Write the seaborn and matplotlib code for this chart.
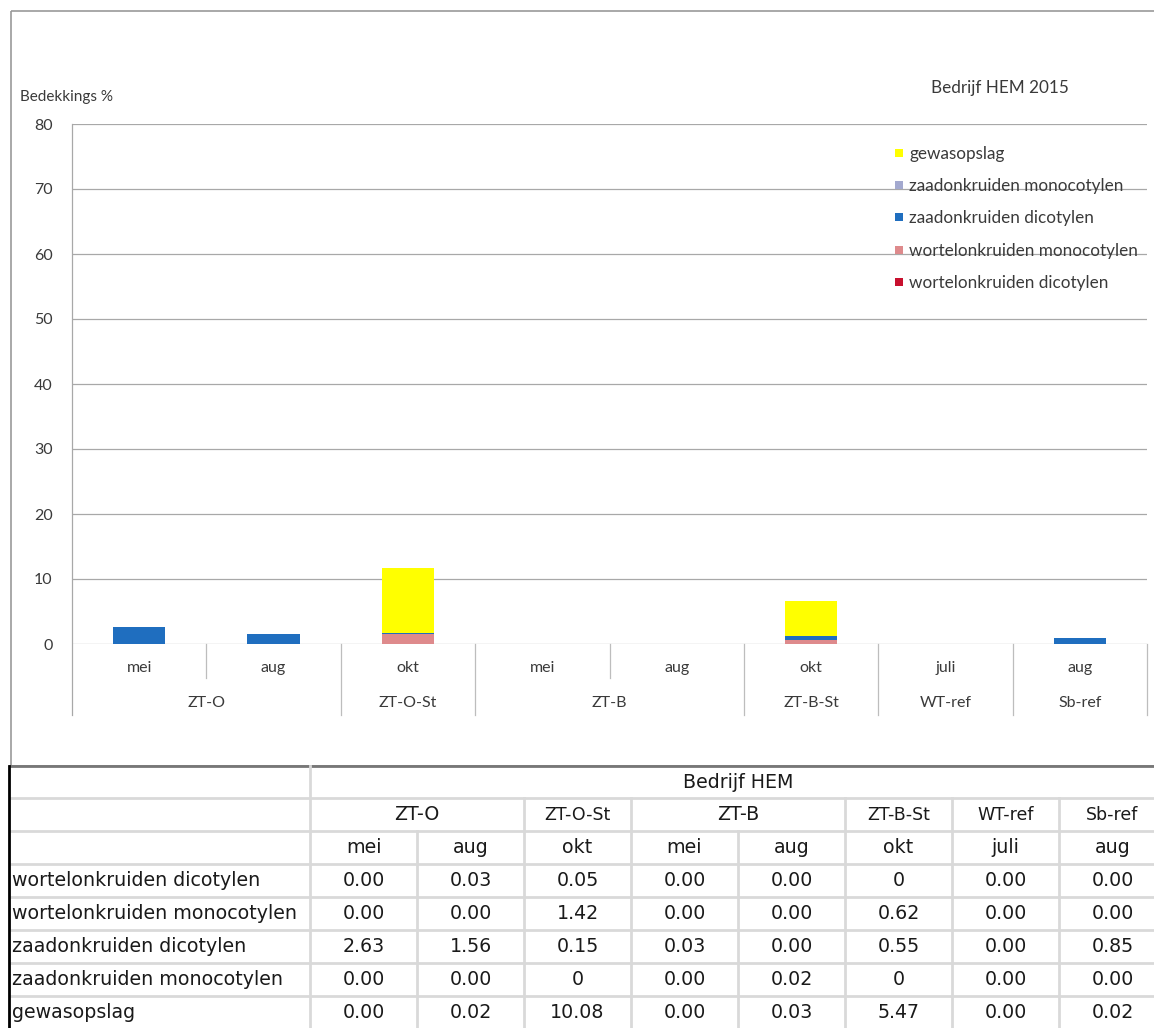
import matplotlib
matplotlib.use("Agg")
import matplotlib.pyplot as plt
import matplotlib.transforms as mtransforms
from matplotlib.lines import Line2D
from matplotlib.patches import Rectangle
import pandas as pd
import seaborn as sns

# ---- data -------------------------------------------------------------
groups = ["ZT-O", "ZT-O", "ZT-O-St", "ZT-B", "ZT-B", "ZT-B-St", "WT-ref", "Sb-ref"]
months = ["mei", "aug", "okt", "mei", "aug", "okt", "juli", "aug"]

wortel_dico = ["0.00", "0.03", "0.05", "0.00", "0.00", "0", "0.00", "0.00"]
wortel_mono = ["0.00", "0.00", "1.42", "0.00", "0.00", "0.62", "0.00", "0.00"]
zaad_dico = ["2.63", "1.56", "0.15", "0.03", "0.00", "0.55", "0.00", "0.85"]
zaad_mono = ["0.00", "0.00", "0", "0.00", "0.02", "0", "0.00", "0.00"]
gewas = ["0.00", "0.02", "10.08", "0.00", "0.03", "5.47", "0.00", "0.02"]

series_names = ["wortelonkruiden dicotylen", "wortelonkruiden monocotylen",
                "zaadonkruiden dicotylen", "zaadonkruiden monocotylen", "gewasopslag"]
series_values = [wortel_dico, wortel_mono, zaad_dico, zaad_mono, gewas]
series_colors = ["#C8102E", "#DE8A8C", "#1F6EBF", "#A3A9CF", "#FFFF00"]

y_ticks = [0, 10, 20, 30, 40, 50, 60, 70, 80]
y_title = "Bedekkings %"
chart_title = "Bedrijf HEM 2015"
table_title = "Bedrijf HEM"

# ---- figure -----------------------------------------------------------
W, H = 1154, 1028
fig = plt.figure(figsize=(W / 100, H / 100), dpi=100)
fig.patch.set_facecolor("white")

chart_font = ["Lato", "DejaVu Sans"]
text_col = "#3a3a3a"

# overlay in pixel coordinates for frame and table
ov = fig.add_axes([0, 0, 1, 1])
ov.set_xlim(0, W)
ov.set_ylim(H, 0)
ov.axis("off")
ov.set_zorder(0)

x0_px, x1_px, ytop_px, y0_px = 72, 1147, 124, 644
ax = fig.add_axes([x0_px / W, 1 - y0_px / H, (x1_px - x0_px) / W, (y0_px - ytop_px) / H])
ax.set_zorder(2)
ax.patch.set_alpha(0)

keys = [f"{g}|{m}|{i}" for i, (g, m) in enumerate(zip(groups, months))]
bottom = [0.0] * len(keys)
for name, vals, col in zip(series_names, series_values, series_colors):
    heights = [float(v) for v in vals]
    df = pd.DataFrame({"cat": keys, "val": heights})
    sns.barplot(data=df, x="cat", y="val", order=keys, color=col, saturation=1,
                width=0.39, linewidth=0, errorbar=None, bottom=bottom, ax=ax)
    bottom = [b + h for b, h in zip(bottom, heights)]

ax.set_xlim(-0.5, len(keys) - 0.5)
ax.set_ylim(0, 80)
ax.set_yticks(y_ticks)
ax.set_yticklabels([str(t) for t in y_ticks], fontsize=11.5, color=text_col, family=chart_font)
ax.tick_params(axis="y", length=0, pad=14)
ax.set_xticks([])
ax.set_xlabel("")
ax.set_ylabel("")
for s in ax.spines.values():
    s.set_visible(False)
ax.yaxis.grid(True, color="#a8a8a8", lw=0.9)
ax.set_axisbelow(True)

# category axis: separators, month and group labels
blend = mtransforms.blended_transform_factory(ax.transData, ax.transAxes)
h_ax = y0_px - ytop_px
short_y = -(678 - y0_px) / h_ax
long_y = -(715 - y0_px) / h_ax
group_edges = [0]
for i in range(1, len(groups)):
    if groups[i] != groups[i - 1]:
        group_edges.append(i)
group_edges.append(len(groups))
for k in range(len(groups) + 1):
    yb = long_y if k in group_edges else short_y
    top = 1.0 if k == 0 else 0.0
    ax.add_line(Line2D([k - 0.5, k - 0.5], [yb, top], transform=blend,
                       color="#bdbdbd" if k else "#a8a8a8", lw=0.9, clip_on=False))
for i, m in enumerate(months):
    ax.text(i, -(668 - y0_px) / h_ax, m, transform=blend, ha="center", va="center",
            fontsize=11.5, color=text_col, family=chart_font)
for a, b in zip(group_edges[:-1], group_edges[1:]):
    ax.text((a + b - 1) / 2, -(703 - y0_px) / h_ax, groups[a], transform=blend,
            ha="center", va="center", fontsize=11.5, color=text_col, family=chart_font)

# titles
ov.text(20, 97, y_title, ha="left", va="center", fontsize=11, color=text_col, family=chart_font)
ov.text(1000, 88, chart_title, ha="center", va="center", fontsize=12.3, color=text_col,
        family=chart_font)

# legend
handles = [Line2D([], [], ls="none", marker="s", markersize=6, color=c,
                  markeredgewidth=0) for c in series_colors[::-1]]
leg = ax.legend(handles, series_names[::-1], loc="upper left",
                bbox_to_anchor=(888 / W, 1 - 139 / H), bbox_transform=fig.transFigure,
                frameon=False, handlelength=0.5, handletextpad=0.35, labelspacing=0.95,
                prop={"family": chart_font, "size": 12.3}, borderaxespad=0)
for t in leg.get_texts():
    t.set_color(text_col)

# chart frame
ov.add_patch(Rectangle((11, 11), W + 20, 755, fill=False, edgecolor="#9a9a9a", lw=1.2))
ov.add_line(Line2D([10, W], [766, 766], color="#777777", lw=2))

# ---- table ------------------------------------------------------------
grid_col = "#d9d9d9"
row_edges = [766, 798, 831, 864, 897, 930, 963, 996, 1029]
label_right = 310
col_w = 107
col_edges = [label_right + i * col_w for i in range(len(keys) + 1)]
tfont = dict(family="DejaVu Sans", fontsize=13.7, color="#1a1a1a")

for y in row_edges[1:]:
    ov.add_line(Line2D([10, W], [y, y], color=grid_col, lw=2))
ov.add_line(Line2D([label_right, label_right], [766, H], color=grid_col, lw=2))
for gi in group_edges[1:-1]:
    x = col_edges[gi]
    ov.add_line(Line2D([x, x], [row_edges[1], H], color=grid_col, lw=2))
for i in range(1, len(keys)):
    if i not in group_edges:
        x = col_edges[i]
        ov.add_line(Line2D([x, x], [row_edges[2], H], color=grid_col, lw=2))
ov.add_line(Line2D([9, 9], [766, H], color="black", lw=2))

def ycen(r):
    return (row_edges[r] + row_edges[r + 1]) / 2

ov.text((col_edges[0] + col_edges[-1]) / 2, ycen(0), table_title, ha="center", va="center", **tfont)
for a, b in zip(group_edges[:-1], group_edges[1:]):
    label = groups[a]
    fs = 13.7 if b - a > 1 else 12.5
    ov.text((col_edges[a] + col_edges[b]) / 2, ycen(1), label, ha="center", va="center",
            **{**tfont, "fontsize": fs})
for i, m in enumerate(months):
    ov.text(col_edges[i] + col_w / 2, ycen(2), m, ha="center", va="center", **tfont)
for r, (name, vals) in enumerate(zip(series_names, series_values)):
    ov.text(12, ycen(3 + r), name, ha="left", va="center", **tfont)
    for i, v in enumerate(vals):
        ov.text(col_edges[i] + col_w / 2, ycen(3 + r), v, ha="center", va="center", **tfont)

fig.savefig("out.png", dpi=100, facecolor="white")
